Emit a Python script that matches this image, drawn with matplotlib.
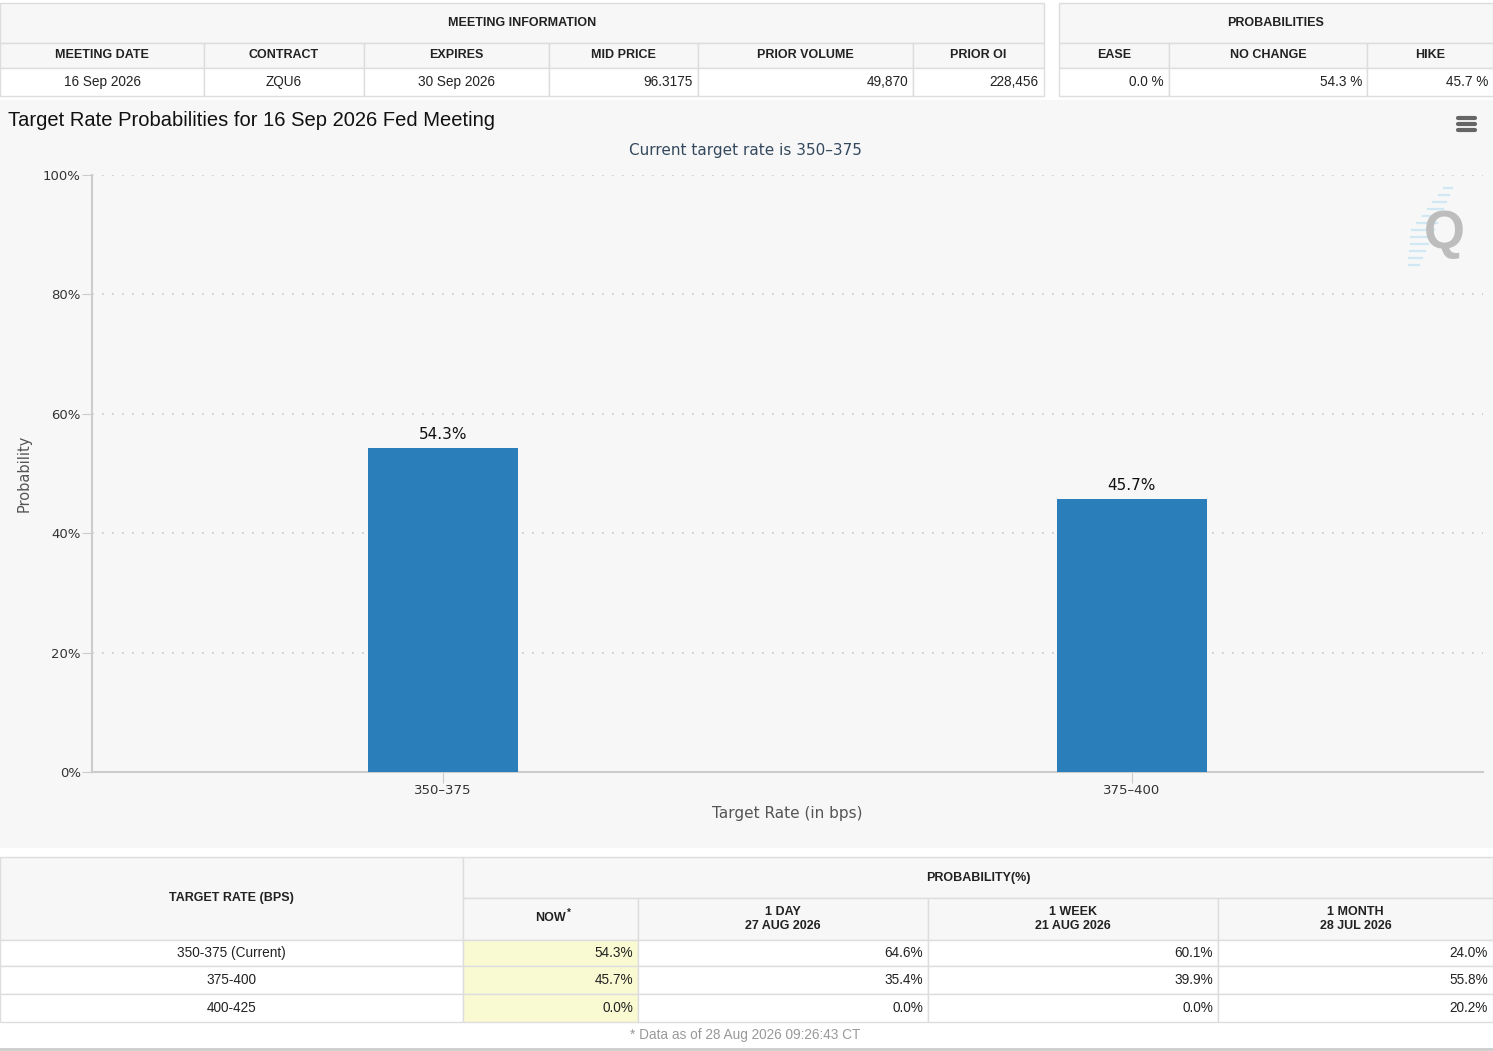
import matplotlib
matplotlib.use('Agg')
import matplotlib.pyplot as plt
from matplotlib.patches import Rectangle

# ---- data read from the page ----
meeting_cols = ["MEETING DATE", "CONTRACT", "EXPIRES", "MID PRICE", "PRIOR VOLUME", "PRIOR OI"]
meeting_vals = ["16 Sep 2026", "ZQU6", "30 Sep 2026", "96.3175", "49,870", "228,456"]
prob_cols = ["EASE", "NO CHANGE", "HIKE"]
prob_vals = [0.0, 54.3, 45.7]

rates = ["350\u2013375", "375\u2013400"]
probs = [54.3, 45.7]
current_rate = "350\u2013375"

table_rates = ["350-375 (Current)", "375-400", "400-425"]
period_heads = ["1 DAY\n27 AUG 2026", "1 WEEK\n21 AUG 2026", "1 MONTH\n28 JUL 2026"]
now_probs = [54.3, 45.7, 0.0]
day_probs = [64.6, 35.4, 0.0]
week_probs = [60.1, 39.9, 0.0]
month_probs = [24.0, 55.8, 20.2]
data_stamp = "* Data as of 28 Aug 2026 09:26:43 CT"

W, H = 1493, 1051
TFONT = 'Liberation Sans'
CFONT = 'DejaVu Sans'
BORDER = '#dddddd'
HEAD_BG = '#f7f7f7'

fig = plt.figure(figsize=(W / 100, H / 100), dpi=100)
fig.patch.set_facecolor('white')
bg = fig.add_axes([0, 0, 1, 1])
bg.set_xlim(0, W)
bg.set_ylim(H, 0)
bg.axis('off')


def cell(x0, y0, x1, y1, face, text=None, align='center', bold=False,
         size=9.5, color='#222222', edge=BORDER):
    bg.add_patch(Rectangle((x0, y0), x1 - x0, y1 - y0, facecolor=face,
                           edgecolor=edge, lw=1))
    if text is None:
        return
    if align == 'center':
        tx, ha = (x0 + x1) / 2, 'center'
    else:
        tx, ha = x1 - 5, 'right'
    bg.text(tx, (y0 + y1) / 2, text, ha=ha, va='center', fontsize=size,
            family=TFONT, fontweight='bold' if bold else 'normal',
            color=color, linespacing=1.25)


# ---- top tables ----
mx = [0, 204, 364, 549, 698, 913, 1044]
cell(0, 3, 1044, 43, HEAD_BG, "MEETING INFORMATION", bold=True, size=9)
for i, name in enumerate(meeting_cols):
    cell(mx[i], 43, mx[i + 1], 68, HEAD_BG, name, bold=True, size=9)
    cell(mx[i], 68, mx[i + 1], 96, 'white', meeting_vals[i],
         align='center' if i < 3 else 'right', size=9.8)

px = [1059, 1169, 1367, 1493]
cell(1059, 3, 1493, 43, HEAD_BG, "PROBABILITIES", bold=True, size=9)
for i, name in enumerate(prob_cols):
    cell(px[i], 43, px[i + 1], 68, HEAD_BG, name, bold=True, size=9)
    cell(px[i], 68, px[i + 1], 96, 'white', f"{prob_vals[i]:.1f} %",
         align='right', size=9.8)

# ---- chart panel ----
bg.add_patch(Rectangle((0, 100), W, 748, facecolor='#f7f7f7', edgecolor='none'))
bg.text(8, 121, "Target Rate Probabilities for 16 Sep 2026 Fed Meeting",
        ha='left', va='center', fontsize=14.5, family=TFONT, color='#111111')
bg.text(745, 150, f"Current target rate is {current_rate}", ha='center',
        va='center', fontsize=11, family=CFONT, color='#34495e')
for yy in (118, 124, 130):
    bg.plot([1458, 1475], [yy, yy], color='#666666', lw=3, solid_capstyle='round')
# watermark: slanted streaks behind a grey Q
for k in range(12):
    yy = 188 + k * 7
    xr = 1452 - k * 3
    ln = 8 + 14 * (1 - abs(k - 6) / 6)
    bg.plot([xr - ln, xr], [yy, yy], color='#cfe8f4', lw=1.6)
bg.text(1444, 234, "Q", ha='center', va='center', fontsize=38,
        fontweight='bold', family=TFONT, color='#bdbdbd')

ax = fig.add_axes([92 / W, (H - 772) / H, (1483 - 92) / W, (772 - 175) / H])
ax.set_facecolor('none')
xs = list(range(len(rates)))
bars = ax.bar(xs, probs, width=0.217, color='#2a7fba', zorder=3)
for b, v in zip(bars, probs):
    ax.text(b.get_x() + b.get_width() / 2, v + 1.0, f"{v:.1f}%", ha='center',
            va='bottom', fontsize=11, family=CFONT, color='#111111')
ax.set_xlim(-0.51, 1.51)
ax.set_ylim(0, 100)
ax.set_yticks(range(0, 101, 20))
ax.set_yticklabels([f"{t}%" for t in range(0, 101, 20)], family=CFONT,
                   fontsize=9.5, color='#333333')
ax.set_xticks(xs)
ax.set_xticklabels(rates, family=CFONT, fontsize=9.5, color='#333333')
ax.tick_params(axis='y', length=7, color='#cccccc', pad=1)
ax.tick_params(axis='x', length=8, color='#cccccc', pad=1)
ax.grid(axis='y', linestyle=(0, (1, 5)), color='#c8c8c8', lw=1.2, zorder=0)
for s in ('top', 'right'):
    ax.spines[s].set_visible(False)
ax.spines['left'].set_color('#cccccc')
ax.spines['bottom'].set_color('#cccccc')
ax.spines['left'].set_linewidth(1.5)
ax.spines['bottom'].set_linewidth(1.5)
ax.set_xlabel("Target Rate (in bps)", family=CFONT, fontsize=11,
              color='#555555', labelpad=6)
ax.set_ylabel("Probability", family=CFONT, fontsize=10.5, color='#555555',
              labelpad=8)

# ---- bottom table ----
cx = [463, 638, 928, 1218, 1493]
cell(0, 857, 463, 940, HEAD_BG, "TARGET RATE (BPS)", bold=True, size=9)
cell(463, 857, 1493, 898, HEAD_BG, "PROBABILITY(%)", bold=True, size=9)
cell(cx[0], 898, cx[1], 940, HEAD_BG)
bg.text((cx[0] + cx[1]) / 2, 918, "NOW", ha='center', va='center', fontsize=9,
        family=TFONT, fontweight='bold', color='#222222')
bg.text((cx[0] + cx[1]) / 2 + 18, 913, "*", ha='center', va='center',
        fontsize=7, family=TFONT, fontweight='bold', color='#222222')
for i, head in enumerate(period_heads):
    cell(cx[i + 1], 898, cx[i + 2], 940, HEAD_BG, head, bold=True, size=9)

row_y = [940, 966, 994, 1022]
cols = [now_probs, day_probs, week_probs, month_probs]
for r, name in enumerate(table_rates):
    y0, y1 = row_y[r], row_y[r + 1]
    cell(0, y0, 463, y1, 'white', name, size=9.8)
    for c, series in enumerate(cols):
        face = '#fafad2' if c == 0 else 'white'
        cell(cx[c], y0, cx[c + 1], y1, face, f"{series[r]:.1f}%",
             align='right', size=9.8)
bg.text(745, 1035, data_stamp, ha='center', va='center', fontsize=9.8,
        family=TFONT, color='#999999')
bg.plot([0, W], [1049, 1049], color='#cccccc', lw=2)

fig.savefig('out.png', dpi=100, facecolor='white')
